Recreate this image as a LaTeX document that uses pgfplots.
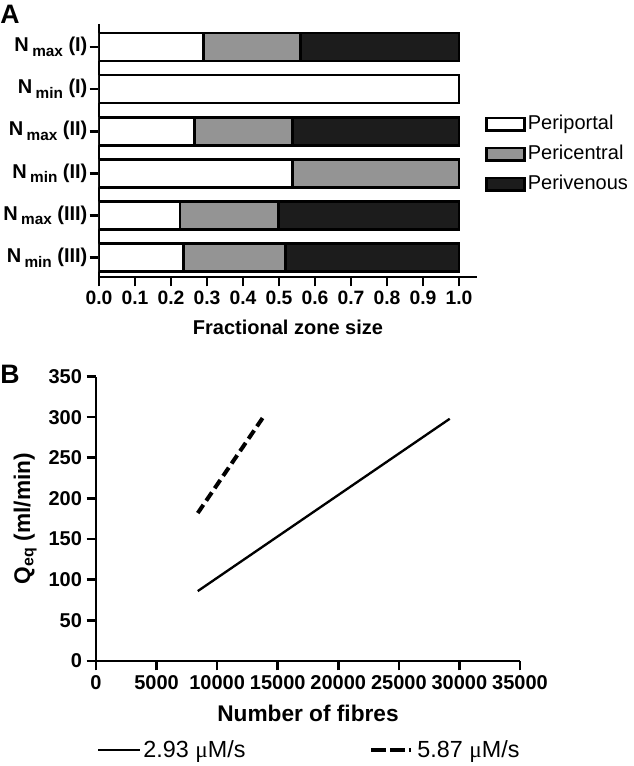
\documentclass[border=0pt]{standalone}
\usepackage{pgfplots}
\pgfplotsset{compat=1.18}
\usepackage{fontspec}
\setmainfont{Liberation Sans}
\newfontfamily\symfont{Liberation Serif}
\definecolor{midgray}{RGB}{148,148,148}
\definecolor{darkfill}{RGB}{28,28,28}
\newcommand{\Nl}[2]{N\,\raisebox{-0.45ex}{\fontsize{11.5}{11.5}\selectfont\bfseries #1} (#2)}
\begin{document}
\begin{tikzpicture}
\path[use as bounding box] (0pt,0pt) rectangle (474.75pt,-574.5pt);
\node[anchor=base west, inner sep=0pt, font=\fontsize{20}{20}\selectfont\bfseries] at (0pt,-18pt) {A};
\node[anchor=base west, inner sep=0pt, font=\fontsize{20}{20}\selectfont\bfseries] at (0pt,-287.25pt) {B};

\begin{axis}[
  at={(74.25pt,-207.75pt)}, anchor=south west,
  scale only axis, width=283.5pt, height=189.75pt,
  xbar stacked, bar width=21pt,
  xmin=0, xmax=1.05, ymin=-0.546, ymax=5.463, y dir=reverse,
  axis x line*=bottom, axis y line*=left,
  axis line style={-, line width=2.2pt, black},
  tick align=outside, major tick length=7pt,
  tick style={black, line width=2pt},
  xtick={0,0.1,0.2,0.3,0.4,0.5,0.6,0.7,0.8,0.9,1.0},
  xticklabels={0.0,0.1,0.2,0.3,0.4,0.5,0.6,0.7,0.8,0.9,1.0},
  ytick={0,1,2,3,4,5},
  yticklabels={{\Nl{max}{I}},{\Nl{min}{I}},{\Nl{max}{II}},{\Nl{min}{II}},{\Nl{max}{III}},{\Nl{min}{III}}},
  xticklabel style={font=\fontsize{14.5}{14.5}\selectfont\bfseries},
  yticklabel style={font=\fontsize{15}{15}\selectfont\bfseries, inner sep=1.5pt},
  xlabel={Fractional zone size},
  xlabel style={font=\fontsize{15}{15}\selectfont\bfseries, at={(axis description cs:0.5,-0.1976)}, anchor=center},
  legend style={at={(1.021,0.648)}, anchor=north west, draw=none, fill=none,
    font=\fontsize{15}{15}\selectfont, row sep=6pt, inner sep=0pt,
    nodes={inner sep=1.5pt, text height=10.5pt, text depth=3pt}},
  legend cell align=left,
  legend image code/.code={\draw[#1, line width=2pt] (0pt,-4.75pt) rectangle (28.5pt,4.75pt);},
]
\addplot[draw=black, line width=2pt, fill=white] coordinates {(0.29,0) (1,1) (0.265,2) (0.537,3) (0.225,4) (0.234,5)};
\addplot[draw=black, line width=2pt, fill=midgray] coordinates {(0.27,0) (0,1) (0.272,2) (0.463,3) (0.273,4) (0.284,5)};
\addplot[draw=black, line width=2pt, fill=darkfill] coordinates {(0.44,0) (0,1) (0.463,2) (0,3) (0.502,4) (0.482,5)};
\legend{Periportal, Pericentral, Perivenous}
\end{axis}

\begin{axis}[
  at={(72pt,-495.75pt)}, anchor=south west,
  scale only axis, width=318pt, height=213.375pt,
  xmin=0, xmax=35000, ymin=0, ymax=350,
  scaled x ticks=false, scaled y ticks=false,
  axis x line*=bottom, axis y line*=left,
  axis line style={-, line width=2.2pt, black},
  tick align=outside, major tick length=7pt,
  tick style={black, line width=2pt},
  xtick={0,5000,10000,15000,20000,25000,30000,35000},
  xticklabels={0,5000,10000,15000,20000,25000,30000,35000},
  ytick={0,50,100,150,200,250,300,350},
  yticklabels={0,50,100,150,200,250,300,350},
  ticklabel style={font=\fontsize{15}{15}\selectfont\bfseries},
  xlabel={Number of fibres},
  ylabel={Q\textsubscript{eq} (ml/min)},
  label style={font=\fontsize{17}{17}\selectfont\bfseries},
  xlabel style={at={(axis description cs:0.5,-0.183)}, anchor=center},
  ylabel style={at={(axis description cs:-0.167,0.5)}, anchor=center},
  legend columns=2,
  legend style={at={(0.002,-0.313)}, anchor=west, draw=none, fill=none,
    font=\fontsize{17.5}{17.5}\selectfont, inner sep=0pt,
    /tikz/every even column/.append style={column sep=91pt}},
  legend image code/.code={\draw[#1] (0pt,0pt) -- (31pt,0pt);},
]
\addplot[black, line width=1.75pt] coordinates {(8400,86) (29200,298)};
\addplot[black, line width=3pt, dash pattern=on 7.5pt off 3.75pt,
  legend image code/.code={\draw[black, line width=3pt, dash pattern=on 11pt off 3pt on 11pt off 3pt on 1.5pt off 10pt] (0pt,0pt) -- (31pt,0pt);}] coordinates {(8400,182) (13850,301)};
\legend{2.93 {\symfont μ}M/s, 5.87 {\symfont μ}M/s}
\end{axis}
\end{tikzpicture}
\end{document}
